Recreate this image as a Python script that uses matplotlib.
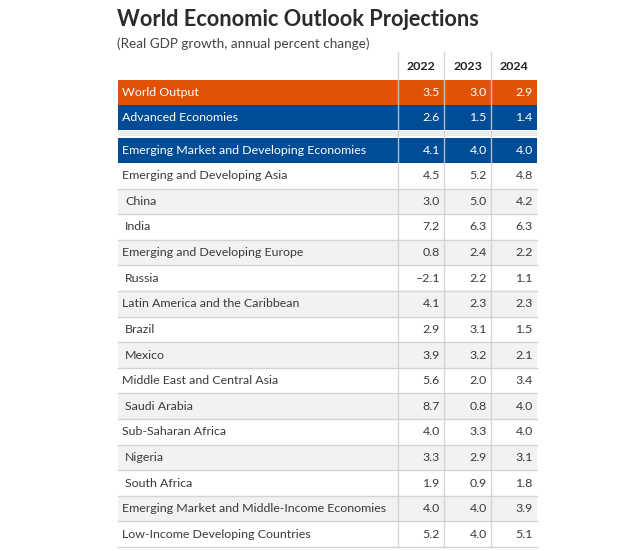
import matplotlib
matplotlib.use("Agg")
import matplotlib.pyplot as plt
from matplotlib.patches import Rectangle

years = ["2022", "2023", "2024"]

regions = ["World Output", "Advanced Economies",
           "Emerging Market and Developing Economies",
           "Emerging and Developing Asia", "China", "India",
           "Emerging and Developing Europe", "Russia",
           "Latin America and the Caribbean", "Brazil", "Mexico",
           "Middle East and Central Asia", "Saudi Arabia",
           "Sub-Saharan Africa", "Nigeria", "South Africa",
           "Emerging Market and Middle-Income Economies",
           "Low-Income Developing Countries"]

v2022 = [3.5, 2.6, 4.1, 4.5, 3.0, 7.2, 0.8, -2.1, 4.1, 2.9, 3.9, 5.6, 8.7, 4.0, 3.3, 1.9, 4.0, 5.2]
v2023 = [3.0, 1.5, 4.0, 5.2, 5.0, 6.3, 2.4, 2.2, 2.3, 3.1, 3.2, 2.0, 0.8, 3.3, 2.9, 0.9, 4.0, 4.0]
v2024 = [2.9, 1.4, 4.0, 4.8, 4.2, 6.3, 2.2, 1.1, 2.3, 1.5, 2.1, 3.4, 4.0, 4.0, 3.1, 1.8, 3.9, 5.1]

countries = {"China", "India", "Russia", "Brazil", "Mexico", "Saudi Arabia",
             "Nigeria", "South Africa"}

ORANGE = "#e05206"
BLUE = "#004c97"
TXT = "#3a3a3a"
FS = 8.9
plt.rcParams['font.family'] = ['Lato', 'DejaVu Sans']

fig = plt.figure(figsize=(6.4, 5.51), dpi=100)
ax = fig.add_axes([0, 0, 1, 1])
ax.set_xlim(0, 640)
ax.set_ylim(551, 0)
ax.axis("off")

left, right = 118, 537
col_edges = [398, 444, 491, 537]   # column boundaries
head_top = 52

# row tops
tops = []
y = 80
for i, r in enumerate(regions):
    if i == 2:
        y += 8   # gap before emerging markets
    h = 25 if i < 3 else 25.6
    tops.append((y, h))
    y += h
bottom = y

# gap band
ax.add_patch(Rectangle((left, tops[1][0] + tops[1][1] + 1), right - left, 5,
                       color="#ececec", lw=0, zorder=1))

for i, r in enumerate(regions):
    t, h = tops[i]
    if i == 0:
        bg, fc, lc = ORANGE, "white", None
    elif i < 3:
        bg, fc, lc = BLUE, "white", None
    else:
        bg = "#f2f2f2" if (i - 3) % 2 == 1 else "white"
        fc, lc = TXT, "#d4d4d4"
    ax.add_patch(Rectangle((left, t), right - left, h, color=bg, lw=0, zorder=1))
    if lc:
        ax.plot([left, right], [t + h, t + h], color=lc, lw=1, zorder=3)
    yc = t + h / 2
    x0 = left + (7 if r in countries else 4)
    ax.text(x0, yc, r, color=fc, fontsize=FS, va="center", ha="left", zorder=4)
    for j, vals in enumerate([v2022, v2023, v2024]):
        s = f"{vals[i]:.1f}".replace("-", "\u2013")
        ax.text(col_edges[j + 1] - 4, yc, s, color=fc, fontsize=FS,
                va="center", ha="right", zorder=4)

# vertical separators
for xe in col_edges[:3]:
    ax.plot([xe, xe], [head_top, bottom], color="#cfcfcf", lw=1, zorder=3, alpha=0.85)

# header
for j, yr in enumerate(years):
    xc = (col_edges[j] + col_edges[j + 1]) / 2
    ax.text(xc, 67, yr, fontsize=FS, fontweight="bold", color="#222222",
            ha="center", va="center")

ax.text(117, 20, "World Economic Outlook Projections", fontsize=15.7,
        fontweight="bold", color="#2b2b2b", ha="left", va="center")
ax.text(117, 44, "(Real GDP growth, annual percent change)", fontsize=9.7,
        color="#444444", ha="left", va="center")

fig.savefig("out.png", dpi=100)
